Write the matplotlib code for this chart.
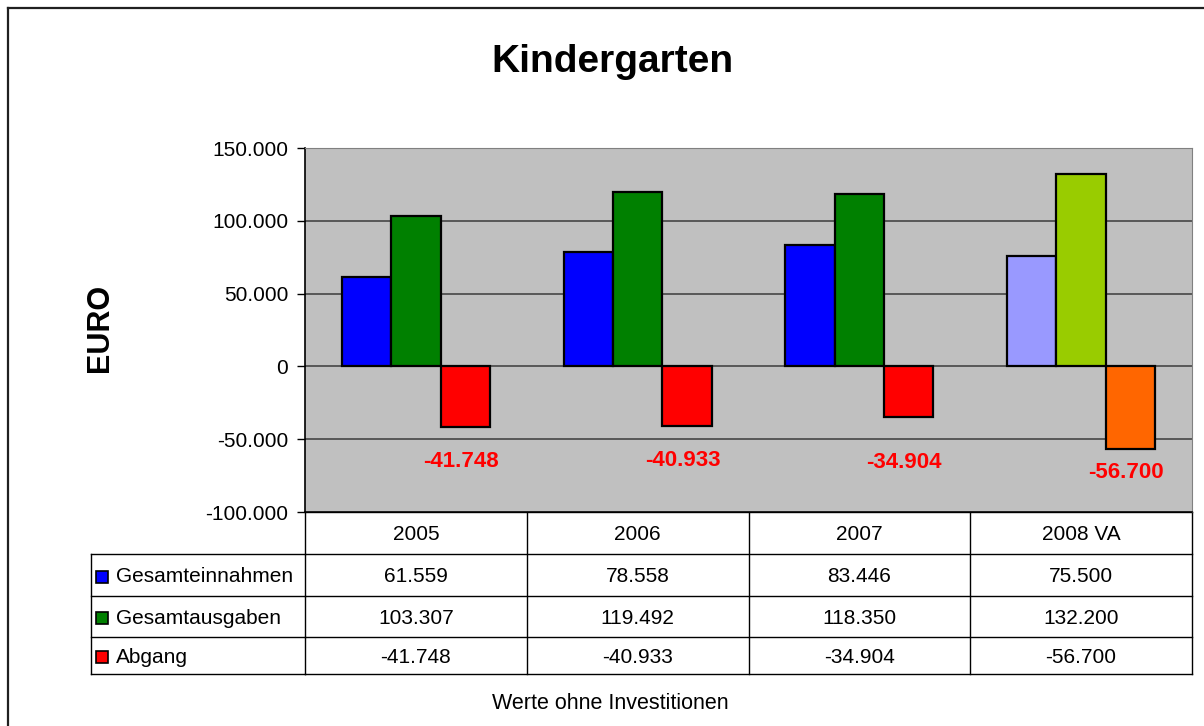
import matplotlib
matplotlib.use("Agg")
import matplotlib.pyplot as plt
import matplotlib.transforms as mtransforms
from matplotlib.patches import Rectangle

plt.rcParams['font.family'] = ['Liberation Sans', 'DejaVu Sans']

# ---- data ----
categories = ['2005', '2006', '2007', '2008 VA']
series_names = ['Gesamteinnahmen', 'Gesamtausgaben', 'Abgang']
einnahmen = [61559, 78558, 83446, 75500]
ausgaben = [103307, 119492, 118350, 132200]
abgang = [-41748, -40933, -34904, -56700]
yticks = [-100000, -50000, 0, 50000, 100000, 150000]
title = 'Kindergarten'
ylabel = 'EURO'
footer = 'Werte ohne Investitionen'

# ---- styling ----
series_colors = ['#0000FF', '#008000', '#FF0000']
forecast_colors = ['#9999FF', '#99CC00', '#FF6600']
label_offsets = [-23300, -24000, -30800, -15900]   # red label placement below bar

W, H = 1204, 726
fig = plt.figure(figsize=(W / 100, H / 100), dpi=100)

def fx(px):
    return px / W

def fy(py):
    return 1 - py / H

# overlay axes in pixel coordinates
ov = fig.add_axes([0, 0, 1, 1], zorder=0)
ov.set_xlim(0, W)
ov.set_ylim(H, 0)
ov.axis('off')

# main plot area
pl, pr, pt, pb = 305, 1192, 148, 512
ax = fig.add_axes([fx(pl), fy(pb), fx(pr - pl), (pb - pt) / H], zorder=1)
ax.set_facecolor('#C0C0C0')
n = len(categories)
ax.set_xlim(-0.5, n - 0.5)
ax.set_ylim(-100000, 150000)
ax.set_yticks(yticks)
ax.set_yticklabels([f"{v:,}".replace(',', '.') for v in yticks], fontsize=15)
ax.tick_params(axis='y', length=6, width=1, pad=6, direction='out', colors='black')
ax.set_xticks([])
for y in yticks[1:-1]:
    ax.axhline(y, color='#505050', lw=1.3, zorder=1)
ax.spines['left'].set_color('black')
ax.spines['left'].set_linewidth(1.2)
ax.spines['bottom'].set_color('black')
ax.spines['bottom'].set_linewidth(1.2)
ax.spines['top'].set_color('#808080')
ax.spines['right'].set_color('#808080')

bw = 1 / 4.5
series = [einnahmen, ausgaben, abgang]
for s, vals in enumerate(series):
    xs = [i + (s - 1) * bw for i in range(n)]
    cols = [series_colors[s] if i < n - 1 else forecast_colors[s] for i in range(n)]
    ax.bar(xs, vals, width=bw, color=cols, edgecolor='black', linewidth=1.6, zorder=3)

# red value labels under Abgang bars
for i, v in enumerate(abgang):
    ax.text(i + bw - 0.02, v + label_offsets[i], f"{v:,}".replace(',', '.'),
            ha='center', va='center', color='#FF0000', fontsize=16,
            fontweight='bold', zorder=4)

# ---- data table ----
bt = mtransforms.blended_transform_factory(ax.transData, ov.transData)
row_edges = [512, 554, 596, 637, 674]
tl = 91
lc = 'black'
lw = 1.0
# horizontal lines
ov.plot([-0.5, n - 0.5], [row_edges[0]] * 2, transform=bt, color=lc, lw=lw, clip_on=False)
for y in row_edges[1:]:
    ov.plot([tl, pl], [y, y], color=lc, lw=lw, clip_on=False)
    ov.plot([-0.5, n - 0.5], [y, y], transform=bt, color=lc, lw=lw, clip_on=False)
# vertical lines
ov.plot([tl, tl], [row_edges[1], row_edges[-1]], color=lc, lw=lw, clip_on=False)
for k in range(n + 1):
    ov.plot([k - 0.5, k - 0.5], [row_edges[0], row_edges[-1]], transform=bt,
            color=lc, lw=lw, clip_on=False)

def base(r):
    return (row_edges[r] + row_edges[r + 1]) / 2 + 7.5

for i, c in enumerate(categories):
    ov.text(i, base(0), c, transform=bt, ha='center', va='baseline', fontsize=15)
for s, vals in enumerate(series):
    yb = base(s + 1)
    ov.add_patch(Rectangle((96, yb - 12), 12, 12, facecolor=series_colors[s],
                           edgecolor='black', lw=1.2, clip_on=False))
    ov.text(116, yb, series_names[s], ha='left', va='baseline', fontsize=15)
    for i, v in enumerate(vals):
        ov.text(i, yb, f"{v:,}".replace(',', '.'), transform=bt,
                ha='center', va='baseline', fontsize=15)

# titles
ov.text(612, 72, title, ha='center', va='baseline', fontsize=28, fontweight='bold')
ov.text(100, 328, ylabel, ha='center', va='center', rotation=90, fontsize=22,
        fontweight='bold')
ov.text(610, 709, footer, ha='center', va='baseline', fontsize=15.5)

# chart border (top and left visible)
ov.plot([8, 8], [8, H + 5], color='#202020', lw=1.6, clip_on=False)
ov.plot([8, W + 5], [8, 8], color='#202020', lw=1.6, clip_on=False)

fig.savefig('out.png', dpi=100, facecolor='white')
